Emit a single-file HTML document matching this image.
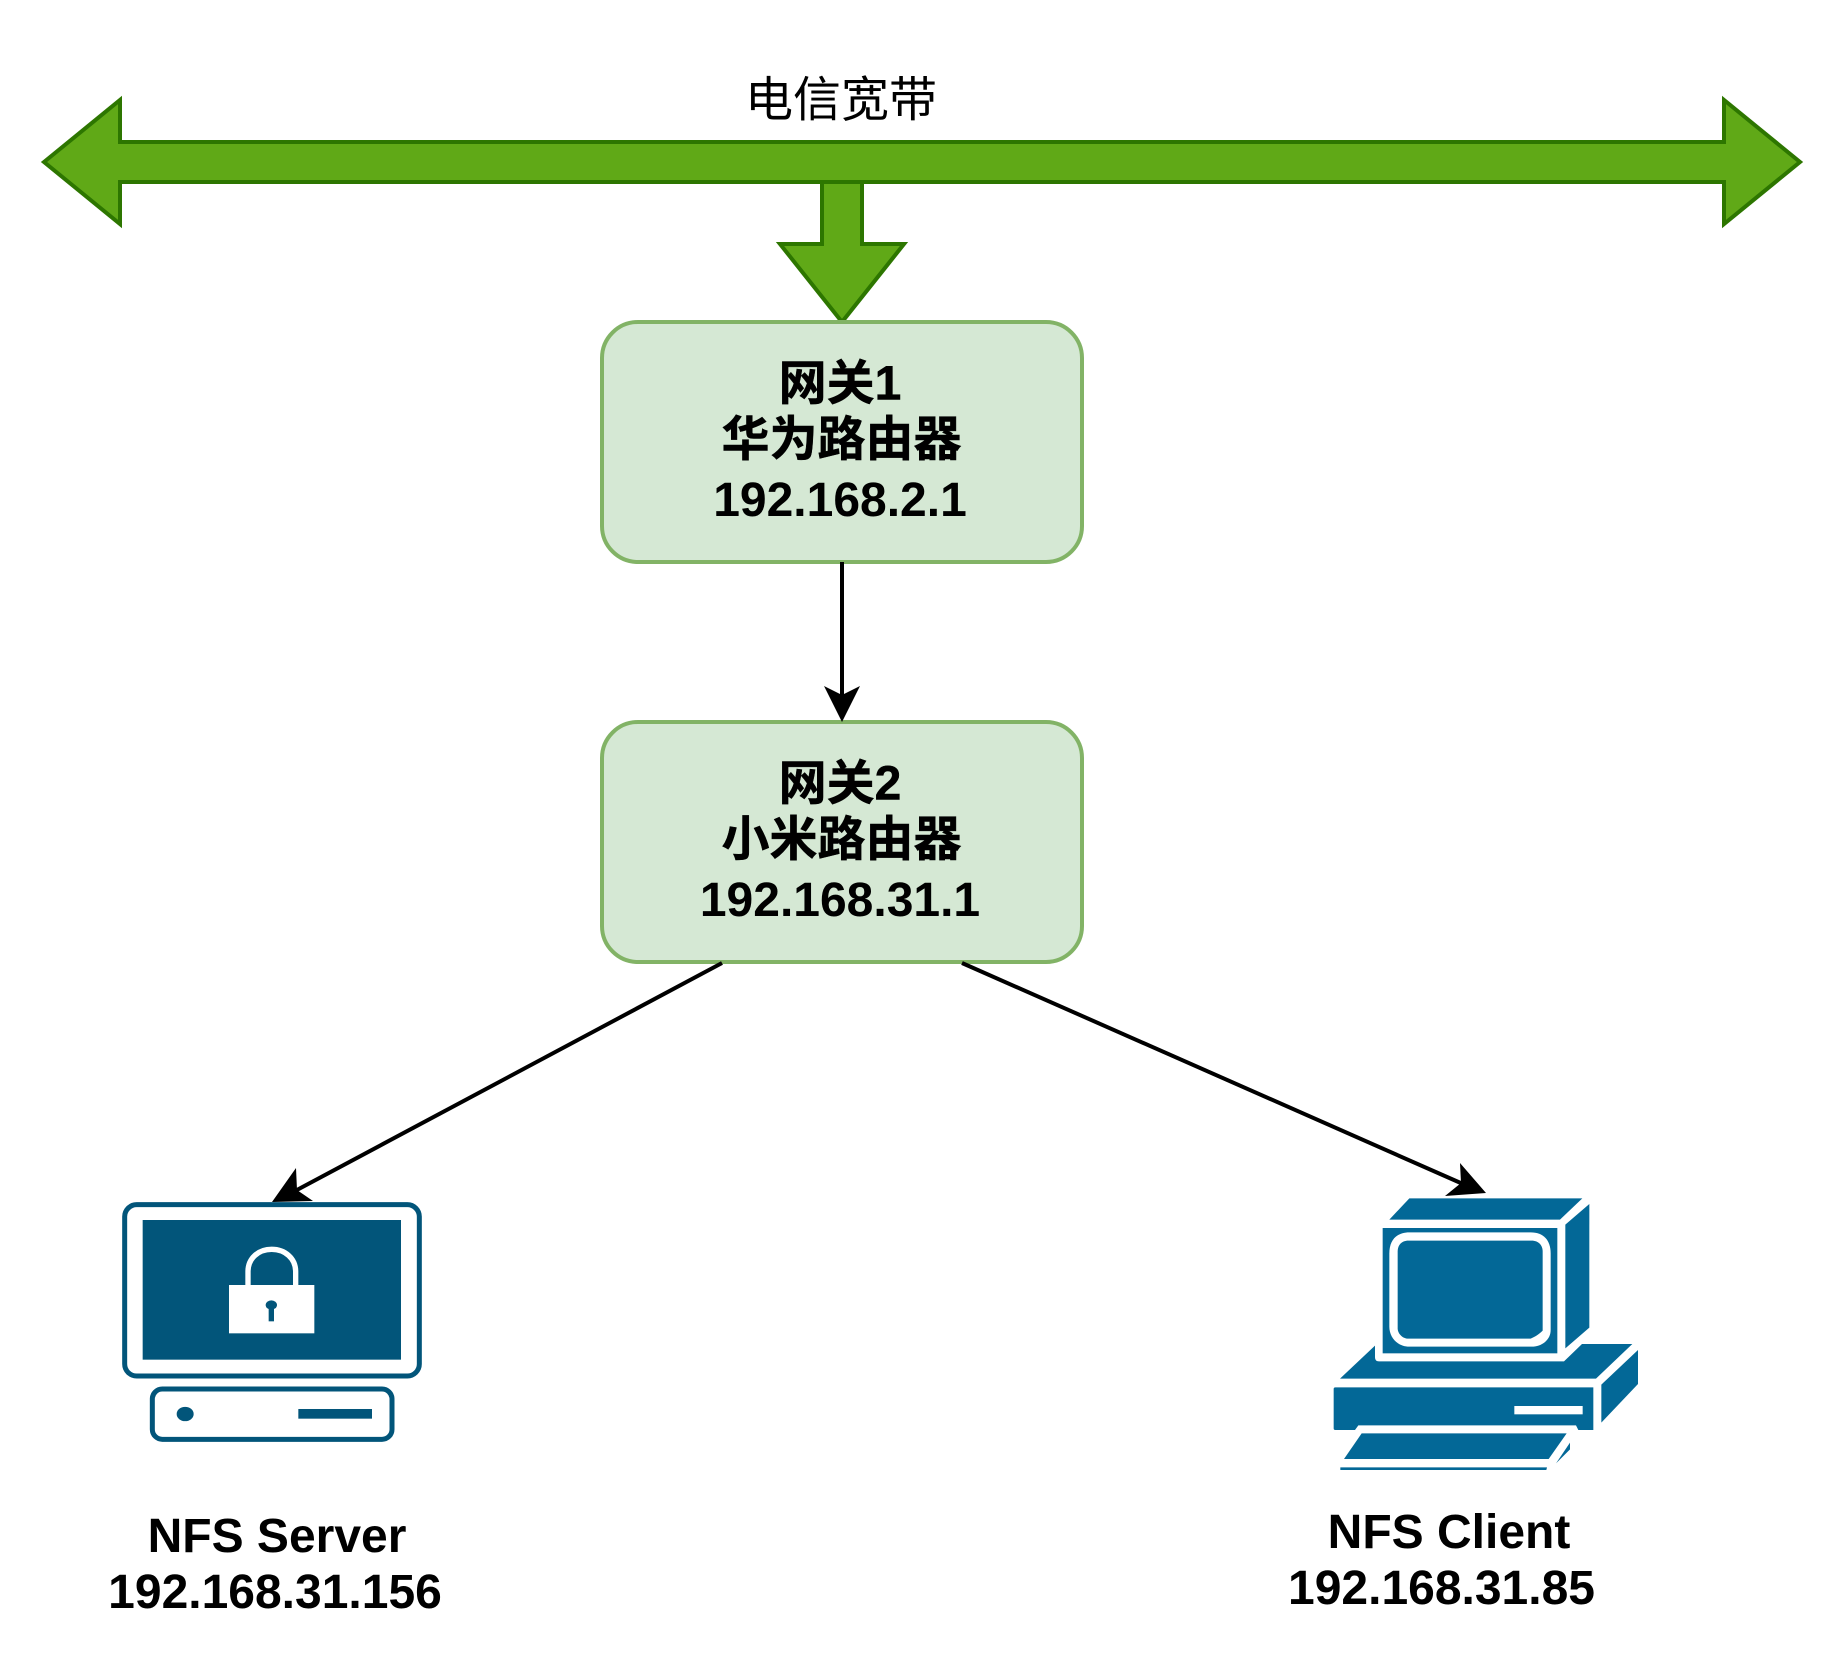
<!DOCTYPE html>
<html><head><meta charset="utf-8"><style>
html,body{margin:0;padding:0;background:#fff}
svg{display:block}
text{font-family:"Liberation Sans","WenQuanYi Zen Hei","Noto Sans CJK SC",sans-serif;font-size:48px;fill:#000;text-anchor:middle}
.b{font-weight:bold}
.c{stroke:#000;stroke-width:.5px}
</style></head><body>
<svg width="1844" height="1668" viewBox="0 0 1844 1668" xmlns="http://www.w3.org/2000/svg">
<rect width="1844" height="1668" fill="#fff"/>
<!-- green arrows -->
<path d="M822 182V244H780L842 322L904 244H862V182Z" fill="#60a917" stroke="#2d7600" stroke-width="4" stroke-miterlimit="10"/>
<path d="M44 162L120 100V142H1724V100L1800 162L1724 224V182H120V224Z" fill="#60a917" stroke="#2d7600" stroke-width="4" stroke-miterlimit="10"/>
<text x="841" y="116">电信宽带</text>
<!-- boxes -->
<rect x="602" y="322" width="480" height="240" rx="36" fill="#d5e8d4" stroke="#82b366" stroke-width="4"/>
<rect x="602" y="722" width="480" height="240" rx="36" fill="#d5e8d4" stroke="#82b366" stroke-width="4"/>
<text class="b c" x="840" y="399.500">网关1</text>
<text class="b c" x="841.500" y="455.500">华为路由器</text>
<text class="b" x="840" y="516">192.168.2.1</text>
<text class="b c" x="840" y="799.500">网关2</text>
<text class="b c" x="841.500" y="855.500">小米路由器</text>
<text class="b" x="840" y="916">192.168.31.1</text>
<!-- connectors -->
<g stroke="#000" stroke-width="4" fill="none">
<path d="M842 562V696"/>
<path d="M722 963L295 1191"/>
<path d="M962 963L1463 1184"/>
</g>
<g fill="#000">
<path d="M842 722L824 686L842 695L860 686Z"/>
<path d="M272 1202L296 1168L297 1190L313 1201Z"/>
<path d="M1486 1193L1460 1163L1461 1183L1445 1196Z"/>
</g>
<!-- server icon -->
<g transform="translate(100,1150) scale(0.33333)" fill="#02557a">
<rect x="74" y="164" width="884" height="514" rx="36" fill="#fff" stroke="#02557a" stroke-width="15"/>
<rect x="128" y="210" width="775" height="419"/>
<path d="M444 410V365C444 325 475 298 515 298C555 298 587 325 587 365V410" fill="none" stroke="#fff" stroke-width="16"/>
<rect x="387" y="405" width="256" height="145" fill="#fff"/>
<ellipse cx="514" cy="465" rx="17" ry="14"/>
<rect x="506" y="470" width="16" height="44"/>
<rect x="157" y="717" width="719" height="151" rx="30" fill="#fff" stroke="#02557a" stroke-width="15"/>
<ellipse cx="255.500" cy="792" rx="25.500" ry="21.500"/>
<rect x="595" y="777" width="221" height="29"/>
</g>
<!-- client icon -->
<g transform="translate(1270,1150) scale(0.33333)" fill="#036897">
<path d="M418 145H937L870 209H358Z"/>
<path d="M958 162V533L886 595V224Z"/>
<rect x="338" y="234" width="524" height="376"/>
<path d="M418 247H782C820 247 842 270 842 310V540C842 570 815 590 785 590H418C385 590 358 565 358 530V310C358 270 380 247 418 247Z" fill="#fff"/>
<path d="M415 272H785C805 272 818 285 818 305V542C805 555 795 560 782 566H415C397 566 383 550 383 535V305C383 285 395 272 415 272Z"/>
<path d="M315 587V622Q315 634 327 634H882L936 582H1087L978 686H210Z"/>
<path d="M1104 600V702L994 818V704Z"/>
<path d="M196 712H970V840H925L918 826H265L255 840H196Q191 840 191 835V717Q191 712 196 712Z"/>
<rect x="733" y="768" width="205" height="25" fill="#fff"/>
<path d="M275 850H890L836 927H222Z"/>
<path d="M900 878V898L858 940Z"/>
<path d="M211 952H831L829 960H211Z"/>
</g>
<!-- labels -->
<text class="b" x="277" y="1552">NFS Server</text>
<text class="b" x="275" y="1608">192.168.31.156</text>
<text class="b" x="1449" y="1548">NFS Client</text>
<text class="b" x="1441.500" y="1604">192.168.31.85</text>
</svg>
</body></html>
